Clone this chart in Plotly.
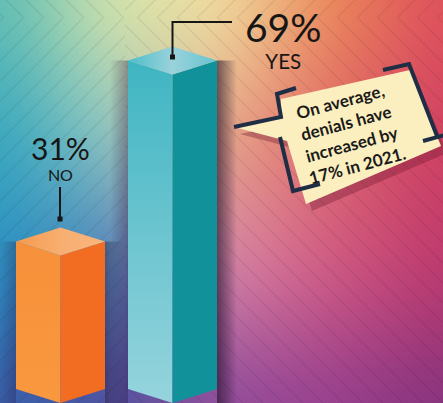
import numpy as np
import zlib, struct, base64
import plotly.graph_objects as go

# ---------------- data ----------------
categories = ["NO", "YES"]
values = [31, 69]
note_lines = ["On average,", "denials have", "increased by", "17% in 2021."]

# ---------------- geometry (pixels) ----------------
W, H = 443, 403
K = 4.76            # px per percentage point
DEPTH = 14          # isometric depth in px
C0, SP = 60.5, 112  # first bar centre px, spacing px
HW = 44.5 / SP      # half width in index units
DV = DEPTH / K      # depth in value units

# ---------------- background image ----------------
def hx(c):
    c = c.lstrip('#')
    return [int(c[i:i + 2], 16) for i in (0, 2, 4)]

gx = [0, 110, 220, 330, 443]
gy = [0, 135, 270, 403]
grid = [
    ["#5CBDB5", "#D8E6AA", "#F2E0A2", "#EC8A58", "#DF4F5C"],
    ["#34A6BE", "#8FC8C4", "#E9A888", "#E06A6A", "#D03E62"],
    ["#2890C4", "#4C7EBA", "#D886AA", "#D05A84", "#BC386E"],
    ["#3A5CA8", "#4E4E9E", "#8E4A9A", "#963F90", "#84337E"],
]
G = np.array([[hx(c) for c in row] for row in grid], float)
xs = np.arange(W)
ys = np.arange(H)
rows = np.zeros((len(gy), W, 3))
for r in range(len(gy)):
    for ch in range(3):
        rows[r, :, ch] = np.interp(xs, gx, G[r, :, ch])
img = np.zeros((H, W, 3))
for ch in range(3):
    for xi in range(W):
        img[:, xi, ch] = np.interp(ys, gy, rows[:, xi, ch])


def blur1d(a, r, axis):
    a = np.moveaxis(a, axis, 0)
    p = np.concatenate([np.repeat(a[:1], r, 0), a, np.repeat(a[-1:], r, 0)], 0)
    c = np.cumsum(p, 0)
    c = np.concatenate([np.zeros_like(c[:1]), c], 0)
    out = (c[2 * r + 1:] - c[:-2 * r - 1]) / (2 * r + 1)
    return np.moveaxis(out, 0, axis)

for _ in range(2):
    img = blur1d(img, 30, 0)
    img = blur1d(img, 30, 1)

yy, xx = np.mgrid[0:H, 0:W].astype(float)
P = 20
left = xx < 125
band = yy < 17
s_left = np.where(band, xx - yy + 34, xx + yy)
s_right = np.where(band, xx + yy - 34, xx - yy)
s = np.where(left, s_left, s_right)
t = np.mod(s, P)
d = np.minimum(t, P - t) / np.sqrt(2)
inten = np.clip(1.1 - d, 0, 1)
img = img * (1 - 0.075 * inten[..., None])
img = np.clip(img, 0, 255).astype(np.uint8)


def make_png(arr):
    h, w, _ = arr.shape
    raw = b''.join(b'\x00' + arr[i].tobytes() for i in range(h))

    def chunk(tp, dd):
        cc = struct.pack('>I', len(dd)) + tp + dd
        return cc + struct.pack('>I', zlib.crc32(tp + dd) & 0xffffffff)
    return (b'\x89PNG\r\n\x1a\n'
            + chunk(b'IHDR', struct.pack('>IIBBBBB', w, h, 8, 2, 0, 0, 0))
            + chunk(b'IDAT', zlib.compress(raw, 9))
            + chunk(b'IEND', b''))

bg_src = "data:image/png;base64," + base64.b64encode(make_png(img)).decode()

# ---------------- figure ----------------
fig = go.Figure()

styles = [
    dict(left=("#F8983F", "#F7903A"), right="#F26C22",
         top=[[0, "#F59A4C"], [0.5, "#F8AE70"], [1, "#F9B67E"]],
         shL=0.28, shR=0.38),
    dict(left=("#96D4DD", "#3FB5C2"), right="#11929A",
         top=[[0, "#4DBDC9"], [0.5, "#9AD2DB"], [1, "#66C4CF"]],
         shL=0.35, shR=0.62),
]

def poly(x, y, **kw):
    fig.add_trace(go.Scatter(x=x + [x[0]], y=y + [y[0]], mode="lines", fill="toself",
                             line=dict(width=0), hoverinfo="skip", showlegend=False, **kw))

# shadows first
for i, v in enumerate(values):
    st = styles[i]
    c = i
    top = v + DV
    sw = 20 / SP
    poly([c + HW, c + HW + sw, c + HW + sw, c + HW], [0, 0, top, top],
         fillgradient=dict(type="horizontal",
                           colorscale=[[0, f"rgba(35,15,40,{st['shR']})"], [1, "rgba(35,15,40,0)"]]))
    sw2 = 18 / SP
    poly([c - HW - sw2, c - HW, c - HW, c - HW - sw2], [0, 0, top, top],
         fillgradient=dict(type="horizontal",
                           colorscale=[[0, "rgba(35,15,60,0)"], [1, f"rgba(35,15,60,{st['shL']})"]]))

# bars (3 faces each)
for i, v in enumerate(values):
    st = styles[i]
    c = i
    poly([c - HW, c, c, c - HW], [DV, 0, v, v + DV],
         fillgradient=dict(type="vertical",
                           colorscale=[[0, st["left"][0]], [1, st["left"][1]]]))
    poly([c, c + HW, c + HW, c], [0, DV, v + DV, v], fillcolor=st["right"])
    poly([c - HW, c, c + HW, c], [v + DV, v, v + DV, v + 2 * DV],
         fillgradient=dict(type="horizontal", colorscale=st["top"]))

# ---------------- overlay (pixel axes) ----------------
def pl(pts, **kw):
    fig.add_trace(go.Scatter(x=[p[0] for p in pts], y=[p[1] for p in pts], xaxis="x2", yaxis="y2",
                             hoverinfo="skip", showlegend=False, **kw))

# speech bubble shadow
bub = [(281, 99), (410, 70), (441, 146), (306, 204), (287, 141), (234, 127), (281, 117)]
pl([(x + 6, y + 7) for x, y in bub] + [(bub[0][0] + 6, bub[0][1] + 7)], mode="lines",
   fill="toself", fillcolor="rgba(110,20,50,0.35)", line=dict(width=0))
pl(bub + [bub[0]], mode="lines", fill="toself", fillcolor="#FBEFC0", line=dict(width=0))
navy = dict(color="#1F2D45", width=4)
pl([(296, 88), (277, 94), (281, 117), (234, 127)], mode="lines", line=navy)
pl([(280, 137), (293, 191), (320, 184)], mode="lines", line=navy)
pl([(383, 70), (409, 64), (437, 136)], mode="lines", line=navy)
pl([(423, 141), (445, 135)], mode="lines", line=navy)

# leader lines
lead = dict(color="#161616", width=2)
pl([(172.5, 57), (172.5, 22), (232, 22)], mode="lines", line=lead)
pl([(60, 187), (60, 219)], mode="lines", line=lead)
pl([(172.5, 57), (60, 219)], mode="markers",
   marker=dict(symbol="square", size=5, color="#161616"))

font = "Lato, 'Open Sans', sans-serif"
ann = []
lab = [dict(pos=(60, 157), vs=30, cs=16),
       dict(pos=(283.5, 38), vs=39, cs=20.5)]
for i, v in enumerate(values):
    L = lab[i]
    ann.append(dict(x=L["pos"][0], y=L["pos"][1], xref="x2", yref="y2",
                    text=f"<span style='font-size:{L['vs']}px'>{v}%</span><br>{categories[i]}",
                    showarrow=False, align="center",
                    font=dict(family=font, size=L["cs"], color="#161616"),
                    xanchor="center", yanchor="middle"))
ann.append(dict(x=348, y=133, xref="x2", yref="y2", text="<br>".join(note_lines), showarrow=False,
                textangle=-15, align="center",
                font=dict(family=font, size=17, color="#1A1A1A", weight=700)))

fig.update_layout(
    width=W, height=H, autosize=False,
    margin=dict(l=0, r=0, t=0, b=0, pad=0),
    paper_bgcolor="#888888", plot_bgcolor="rgba(0,0,0,0)",
    xaxis=dict(range=[-C0 / SP, (W - C0) / SP], visible=False, fixedrange=True),
    yaxis=dict(range=[0, H / K], visible=False, fixedrange=True),
    xaxis2=dict(range=[0, W], visible=False, overlaying="x", fixedrange=True),
    yaxis2=dict(range=[H, 0], visible=False, overlaying="y", fixedrange=True),
    images=[dict(source=bg_src, xref="paper", yref="paper", x=0, y=1, sizex=1, sizey=1,
                 xanchor="left", yanchor="top", sizing="stretch", layer="below")],
    annotations=ann,
    showlegend=False,
)
fig.write_html("out.html", config=dict(displayModeBar=False, staticPlot=True))
